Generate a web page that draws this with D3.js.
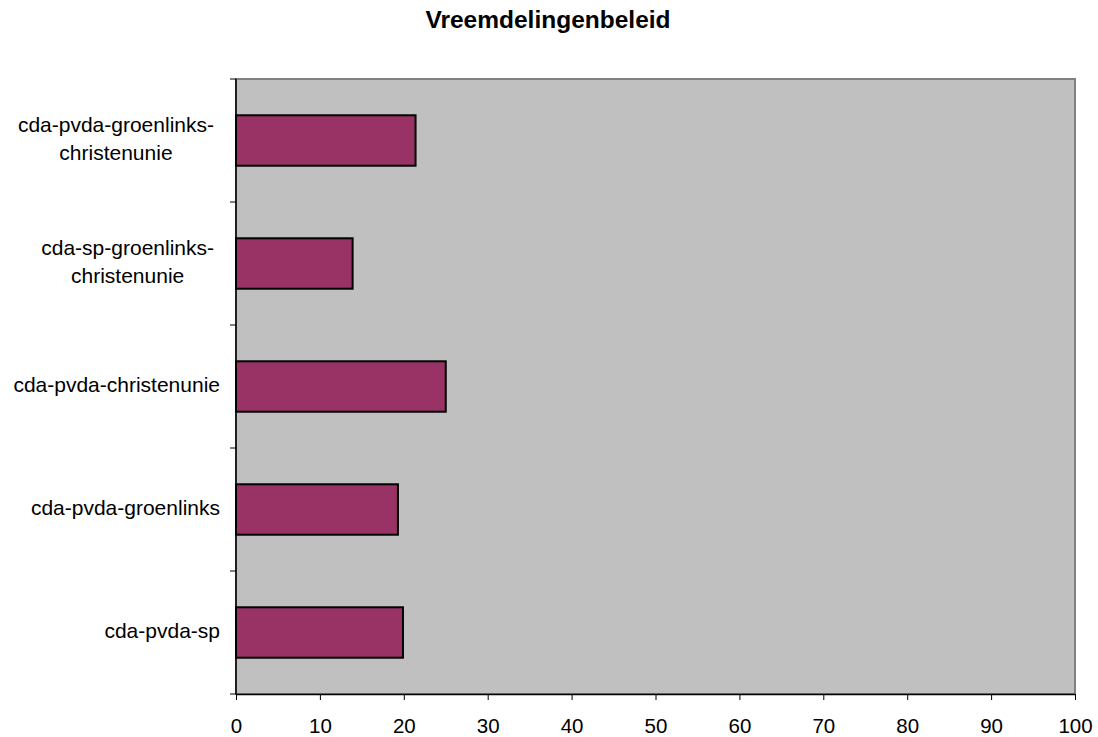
<!DOCTYPE html>
<html><head><meta charset="utf-8">
<script src="https://cdn.jsdelivr.net/npm/d3@7"></script>
<style>body{margin:0;background:#fff;} svg{display:block;}</style>
</head><body>
<svg id="chart" width="1098" height="737"></svg>
<script>
const title = "Vreemdelingenbeleid";
const categories = [
  ["cda-pvda-groenlinks-", "christenunie"],
  ["cda-sp-groenlinks-", "christenunie"],
  ["cda-pvda-christenunie"],
  ["cda-pvda-groenlinks"],
  ["cda-pvda-sp"]
];
const values = [21.4, 13.9, 25.0, 19.3, 19.9];
const xTicks = [0,10,20,30,40,50,60,70,80,90,100];

const svg = d3.select("#chart");
const m = {left:236, right:1075, top:79, bottom:694};
const font = "'Liberation Sans', Arial, sans-serif";
const fs = 21;

const x = d3.scaleLinear().domain([0,100]).range([m.left, m.right]);
const idx = d3.range(categories.length);
const y = d3.scaleBand().domain(idx).range([m.top, m.bottom]).paddingInner(0.59).paddingOuter(0.295);
const yb = d3.scaleBand().domain(idx).range([m.top, m.bottom]);

svg.append("text").attr("x", 548).attr("y", 28).attr("text-anchor","middle")
  .attr("font-family", font).attr("font-weight","bold").attr("font-size", 24.5).text(title);

// plot background
svg.append("rect").attr("x", m.left).attr("y", m.top).attr("width", m.right-m.left).attr("height", m.bottom-m.top)
  .attr("fill", "#c0c0c0").attr("stroke", "#808080").attr("stroke-width", 2);

// bars
svg.append("g").selectAll("rect").data(values).join("rect")
  .attr("x", x(0)).attr("y", (d,i)=>y(i)).attr("width", d=>x(d)-x(0)).attr("height", y.bandwidth())
  .attr("fill", "#993366").attr("stroke", "#000").attr("stroke-width", 2);

// x axis
const xa = svg.append("g").attr("transform", `translate(0,${m.bottom})`)
  .call(d3.axisBottom(x).tickValues(xTicks).tickSize(6).tickPadding(18).tickSizeOuter(0));
xa.select(".domain").attr("stroke","#000").attr("stroke-width",1.5);
xa.selectAll(".tick line").attr("stroke","#000");
xa.selectAll("text").attr("font-family", font).attr("font-size", 20.5).attr("fill","#000");

// y axis line and ticks at band boundaries
svg.append("line").attr("x1", m.left).attr("x2", m.left).attr("y1", m.top).attr("y2", m.bottom)
  .attr("stroke","#000").attr("stroke-width",1.5);
const bounds = idx.map(i=>yb(i)).concat([m.bottom]);
svg.append("g").selectAll("line").data(bounds).join("line")
  .attr("x1", m.left-6).attr("x2", m.left).attr("y1", d=>d).attr("y2", d=>d).attr("stroke","#000");

// category labels
const lineH = 28;
const lg = svg.append("g");
categories.forEach((lines, i) => {
  const cy = yb(i) + yb.bandwidth()/2 - 1.5;
  const n = lines.length;
  const t = lg.append("text").attr("font-family", font).attr("font-size", fs).attr("fill","#000");
  lines.forEach((s, j) => {
    t.append("tspan").attr("y", cy + (j - (n-1)/2)*lineH).attr("dy","0.35em").text(s);
  });
  const widths = [];
  t.selectAll("tspan").each(function(){ widths.push(this.getComputedTextLength()); });
  const w = d3.max(widths);
  const right = n > 1 ? 214 : 220;
  const cx = right - w/2;
  t.attr("text-anchor","middle").selectAll("tspan").attr("x", cx);
});
</script>
</body></html>
